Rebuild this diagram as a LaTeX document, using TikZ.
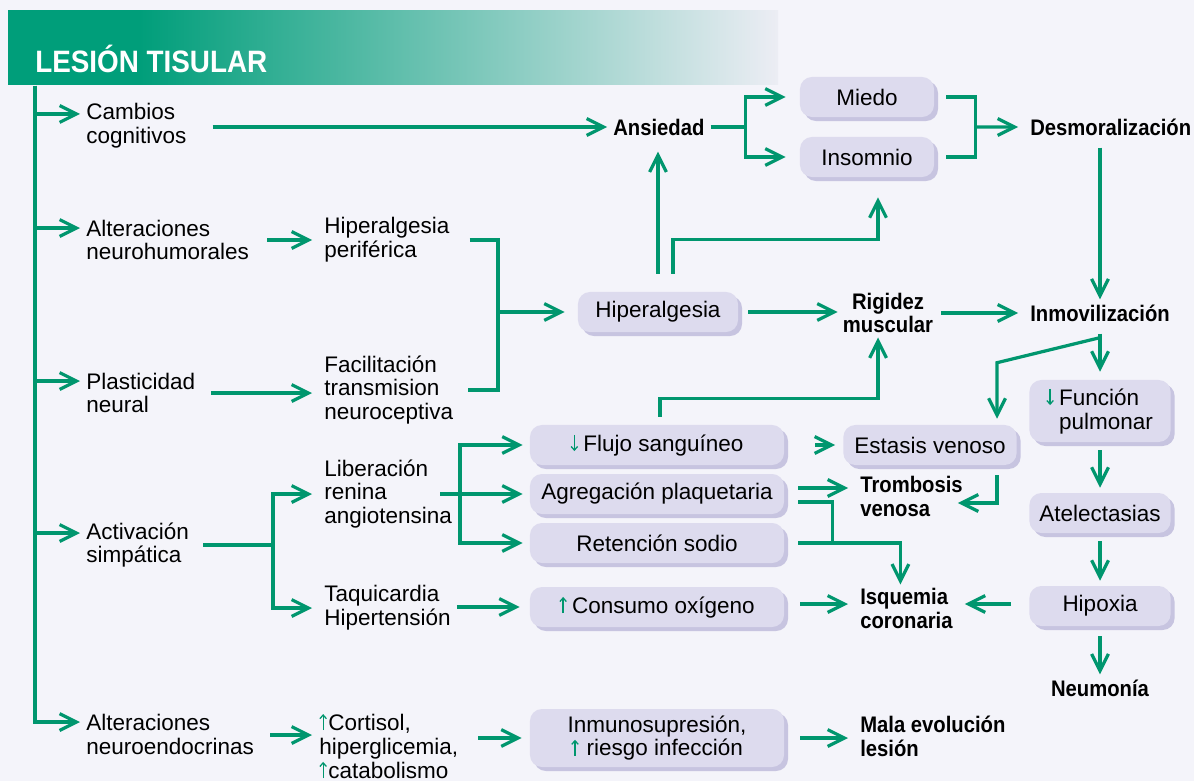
\documentclass[tikz,border=0pt]{standalone}
\usepackage{fontspec}
\setmainfont{Liberation Sans}
\newfontfamily\condfont{Liberation Sans}[FakeStretch=0.9]
\usetikzlibrary{calc,arrows.meta,shadows}
\definecolor{flowgreen}{RGB}{0,150,110}
\definecolor{hdrgreen}{RGB}{0,158,122}
\definecolor{hdrpale}{RGB}{236,237,244}
\definecolor{pagebg}{RGB}{244,244,250}
\definecolor{boxfill}{RGB}{221,219,238}
\definecolor{boxshade}{RGB}{199,196,224}
\pgfdeclarehorizontalshading{hdrfade}{100bp}{color(0bp)=(hdrgreen); color(33.5bp)=(hdrgreen); color(75bp)=(hdrpale); color(100bp)=(hdrpale)}
\newcommand\upmark{\tikz[baseline=0pt]\draw[flowgreen, line width=0.9pt, -{Straight Barb[length=2.6pt,width=4.6pt]}] (0pt,0pt) -- (0pt,11.5pt);\kern1pt}
\newcommand\downmark{\tikz[baseline=0pt]\draw[flowgreen, line width=0.9pt, -{Straight Barb[length=2.6pt,width=4.6pt]}] (0pt,11.5pt) -- (0pt,0pt);\kern1pt}
\tikzset{
	txt/.style={anchor=west, align=left, inner sep=0pt, font=\fontsize{16}{17}\selectfont},
	strong/.style={anchor=west, align=left, inner sep=0pt, font=\condfont\bfseries\fontsize{16}{17}\selectfont},
	pill/.style={rounded corners=0.3cm, fill=boxfill, general shadow={fill=boxshade, shadow xshift=0.1cm, shadow yshift=-0.1cm}, minimum height=1cm, inner sep=0pt, align=center, font=\fontsize{16}{17}\selectfont},
	flow/.style={draw=flowgreen, line width=2.3pt},
	link/.style={flow, -{Straight Barb[length=0.42cm,width=0.42cm]}}
}

\begin{document}
\begin{tikzpicture}[x=0.025cm, y=-0.025cm]
		%%%%% START %%%%%
		\useasboundingbox (0,0) rectangle (1194,781);
		\fill[pagebg] (0,0) rectangle (1194,781);
		
		\shade[shading=hdrfade] (8,11) rectangle (778,85);
		\node[anchor=base west, inner sep=0pt, text=white, font=\condfont\bfseries\fontsize{22}{24}\selectfont] (title) at (35,73) {LESIÓN TISULAR};
		
		\node[txt] (cambios) at (86,126) {Cambios\\cognitivos};
		\node[txt] (alth) at (86,240) {Alteraciones\\neurohumorales};
		\node[txt] (plast) at (86,393) {Plasticidad\\neural};
		\node[txt] (activ) at (86,545) {Activación\\simpática};
		\node[txt] (altne) at (86,734) {Alteraciones\\neuroendocrinas};
		
		\node[txt] (hperif) at (324,240) {Hiperalgesia\\periférica};
		\node[txt] (facil) at (324,390) {Facilitación\\transmision\\neuroceptiva};
		\node[txt] (liber) at (324,494) {Liberación\\renina\\angiotensina};
		\node[txt] (taqui) at (324,608) {Taquicardia\\Hipertensión};
		\node[txt] (cortis) at (319,746) {\upmark Cortisol,\\hiperglicemia,\\\upmark catabolismo};
		
		\node[strong] (ansiedad) at (613,127) {Ansiedad};
		\node[strong] (desmor) at (1030,127) {Desmoralización};
		\node[strong, anchor=center, align=center] (rigidez) at (888,313) {Rigidez\\muscular};
		\node[strong] (inmov) at (1030,313) {Inmovilización};
		\node[strong] (tromb) at (860,496) {Trombosis\\venosa};
		\node[strong] (isq) at (860,608) {Isquemia\\coronaria};
		\node[strong, anchor=center] (neumonia) at (1100,688) {Neumonía};
		\node[strong] (mala) at (860,736) {Mala evolución\\lesión};
		
		\node[pill, minimum width=3.35cm] (miedo) at (867,97) {Miedo};
		\node[pill, minimum width=3.35cm] (insom) at (867,157) {Insomnio};
		\node[pill, minimum width=4cm] (hyper) at (658,312) {Hiperalgesia};
		\node[pill, minimum width=6.35cm] (flujo) at (657,445) {\downmark\,Flujo sanguíneo};
		\node[pill, minimum width=6.35cm] (agreg) at (657,494) {Agregación plaquetaria};
		\node[pill, minimum width=6.35cm] (reten) at (657,543) {Retención sodio};
		\node[pill, minimum width=6.35cm] (consumo) at (657,607) {\upmark\,Consumo oxígeno};
		\node[pill, minimum width=6.35cm, minimum height=1.45cm] (inmuno) at (657,738) {Inmunosupresión,\\\upmark\ riesgo infección};
		\node[pill, minimum width=4.33cm] (estasis) at (930,445) {Estasis venoso};
		\node[pill, minimum width=3.53cm, minimum height=1.55cm, align=left] (func) at (1100,411) {\hspace*{0.3cm}\makebox[0pt][r]{\downmark\,}Función\\\hspace*{0.3cm}pulmonar};
		\node[pill, minimum width=3.53cm] (atel) at (1100,513) {Atelectasias};
		\node[pill, minimum width=3.53cm] (hipox) at (1100,606) {Hipoxia};
		
		% trunk
		\coordinate (trunk) at (35,86);
		\draw[link] (trunk) |- ($(cambios.west)+(-6,-12)$);
		\draw[link] (trunk) |- ($(alth.west)+(-6,-12)$);
		\draw[link] (trunk) |- ($(plast.west)+(-6,-12)$);
		\draw[link] (trunk) |- ($(activ.west)+(-6,-12)$);
		\draw[link] (trunk) |- ($(altne.west)+(-6,-12)$);
		
		% top row
		\draw[link] ($(cambios.east)+(26,1)$) -- ($(ansiedad.west)+(-6,0)$);
		\draw[flow] ($(ansiedad.east)+(6,0)$) -- ++(35,0) coordinate (afork);
		\draw[link] (afork) |- ($(miedo.west)+(-14,0)$);
		\draw[link] (afork) |- ($(insom.west)+(-14,0)$);
		\draw[flow] ($(miedo.east)+(12,0)$) -| ($(insom.east)+(41,0)$) -- ($(insom.east)+(12,0)$);
		\draw[link] ($(miedo.east)!0.5!(insom.east)+(41,0)$) -- ($(desmor.west)+(-12,0)$);
		\draw[link] ($(desmor.south -| atel.north)+(0,12)$) -- ($(inmov.north -| atel.north)+(0,-5)$);
		
		% hiperalgesia
		\draw[link] ($(alth.east)+(18,0)$) -- ($(hperif.west)+(-12,0)$);
		\coordinate (hjoin) at (498,312);
		\draw[flow] ($(hperif.east)+(20,0)$) -| (hjoin) |- ($(facil.east)+(15,0)$);
		\draw[link] ($(plast.east)+(16,0)$) -- ($(plast.east -| facil.west)+(-12,0)$);
		\draw[link] (hjoin) -- ($(hyper.west)+(-13,0)$);
		\draw[link] ($(hyper.east)+(10,0)$) -- ($(hyper.east -| rigidez.west)+(-5,0)$);
		\draw[link] ($(hyper.north)+(0,-18)$) -- ($(hyper.north |- ansiedad.south)+(0,16)$);
		\draw[link] ($(hyper.north)+(15,-18)$) -- ++(0,-34) -| ($(insom.south)+(11,20)$);
		\draw[link] ($(rigidez.east)+(8,0)$) -- ($(rigidez.east -| inmov.west)+(-12,0)$);
		
		% right column
		\draw[link] ($(inmov.south -| func.north)+(0,12)$) -- ($(func.north)+(0,-8)$);
		\draw[link] ($(inmov.south -| func.north)+(0,16)$) -- ($(estasis.north)+(67,-62)$) -- ($(estasis.north)+(67,-6)$);
		\draw[link] ($(func.south)+(0,8)$) -- ($(atel.north)+(0,-5)$);
		\draw[link] ($(atel.south)+(0,8)$) -- ($(hipox.north)+(0,-5)$);
		\draw[link] ($(hipox.south)+(0,10)$) -- ($(neumonia.north)+(0,-5)$);
		\draw[link] ($(hipox.west)+(-18,-2)$) -- ($(hipox.west -| isq.east)+(12,-2)$);
		\draw[link] ($(estasis.south)+(67,10)$) |- ($(tromb.east)+(-5,7)$);
		
		% activacion simpatica
		\draw[flow] ($(activ.east)+(14,0)$) -- ++(70,0) coordinate (sfork);
		\draw[link] (sfork) |- ($(liber.west)+(-12,0)$);
		\draw[link] (sfork) |- ($(taqui.west)+(-12,0)$);
		\draw[flow] ($(liber.west)+(116,0)$) -- ++(20,0) coordinate (lfork);
		\draw[link] (lfork) |- ($(flujo.west)+(-7,0)$);
		\draw[link] (lfork) |- ($(agreg.west)+(-7,0)$);
		\draw[link] (lfork) |- ($(reten.west)+(-7,0)$);
		\draw[link] ($(flujo.east)+(31,0)$) -- ($(estasis.west)+(-8,0)$);
		\draw[link] ($(agreg.east)+(14,-6)$) -- ($(agreg.east -| tromb.west)+(-12,-6)$);
		\draw[flow] ($(agreg.east)+(14,8)$) -| ($(reten.east)+(48,0)$);
		\draw[link] ($(reten.east)+(14,0)$) -| ($(isq.north)+(-6,-3)$);
		\draw[link] ($(flujo.north)+(3,-8)$) -- ++(0,-18) -| ($(rigidez.south)+(-10,4)$);
		\draw[link] ($(taqui.east)+(6,-1)$) -- ($(consumo.west)+(-10,0)$);
		\draw[link] ($(consumo.east)+(16,-3)$) -- ($(consumo.east -| isq.west)+(-12,-3)$);
		
		% neuroendocrinas
		\draw[link] ($(altne.east)+(16,1)$) -- ($(altne.east -| cortis.west)+(-7,1)$);
		\draw[link] ($(cortis.east)+(20,-8)$) -- ($(inmuno.west)+(-8,0)$);
		\draw[link] ($(inmuno.east)+(16,0)$) -- ($(inmuno.east -| mala.west)+(-12,0)$);
		%%%%% END %%%%%
\end{tikzpicture}
\end{document}
